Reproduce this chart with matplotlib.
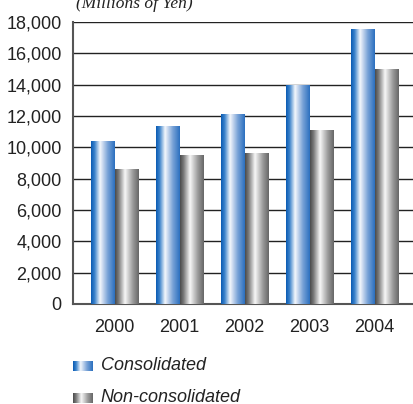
import matplotlib.pyplot as plt
import numpy as np
from matplotlib.colors import LinearSegmentedColormap

plt.rcParams['font.family'] = ['Liberation Sans', 'DejaVu Sans']

# data (millions of yen)
years = ['2000', '2001', '2002', '2003', '2004']
consolidated = [10400, 11300, 12100, 13950, 17550]
non_consolidated = [8600, 9450, 9600, 11100, 14950]

# gradient colormaps for the "cylinder" look
blue_cm = LinearSegmentedColormap.from_list(
    'blue', [(0, '#0a5ab2'), (0.15, '#3a82cb'), (0.38, '#f4f7fc'),
             (0.7, '#7aa3d7'), (1, '#2a6fbf')])
gray_cm = LinearSegmentedColormap.from_list(
    'gray', [(0, '#4a4a4a'), (0.15, '#7a7a7a'), (0.42, '#f7f7f7'),
             (0.75, '#9a9a9a'), (1, '#666666')])
grad = np.linspace(0, 1, 256).reshape(1, -1)

fig = plt.figure(figsize=(4.13, 4.04), dpi=100)
W, H = 413, 404
ax = fig.add_axes([72.7 / W, 1 - 304 / H, (413 - 72.7) / W, (304 - 22) / H])

x = np.arange(len(years))
w = 0.36
b1 = ax.bar(x - w / 2, consolidated, w, color='none', zorder=3)
b2 = ax.bar(x + w / 2, non_consolidated, w, color='none', zorder=3)

for bars, cm in ((b1, blue_cm), (b2, gray_cm)):
    for p in bars:
        x0, y0 = p.get_x(), p.get_y()
        ax.imshow(grad, cmap=cm, aspect='auto', zorder=3,
                  extent=(x0, x0 + p.get_width(), y0, y0 + p.get_height()))

ax.set_xlim(-0.646, 4.59)
ax.set_ylim(0, 18000)
ax.set_yticks(np.arange(0, 18001, 2000))
ax.set_yticklabels([f'{v:,}' for v in range(0, 18001, 2000)])
ax.set_xticks(x)
ax.set_xticklabels(years)
ax.tick_params(length=0, labelsize=13, colors='#222222')
ax.tick_params(axis='y', pad=8)
ax.tick_params(axis='x', pad=11)
ax.yaxis.grid(True, color='#222222', linewidth=1.0, zorder=1)
ax.set_axisbelow(True)
for s in ('top', 'right'):
    ax.spines[s].set_visible(False)
for s in ('left', 'bottom'):
    ax.spines[s].set_color('#555555')
    ax.spines[s].set_linewidth(1.5)

fig.text(76 / W, 1 - 8 / H, '(Millions of Yen)', family='Liberation Serif',
         style='italic', fontsize=12.5, color='#222222', va='baseline', ha='left')

# legend swatches
for yc, cm, label in ((366, blue_cm, 'Consolidated'),
                      (398, gray_cm, 'Non-consolidated')):
    sw = fig.add_axes([72.7 / W, 1 - (yc + 5) / H, 19 / W, 10 / H])
    sw.imshow(grad, cmap=cm, aspect='auto')
    sw.axis('off')
    fig.text(100.7 / W, 1 - yc / H, label, style='italic', fontsize=13,
             color='#222222', va='center', ha='left')

fig.savefig('out.png', dpi=100)
